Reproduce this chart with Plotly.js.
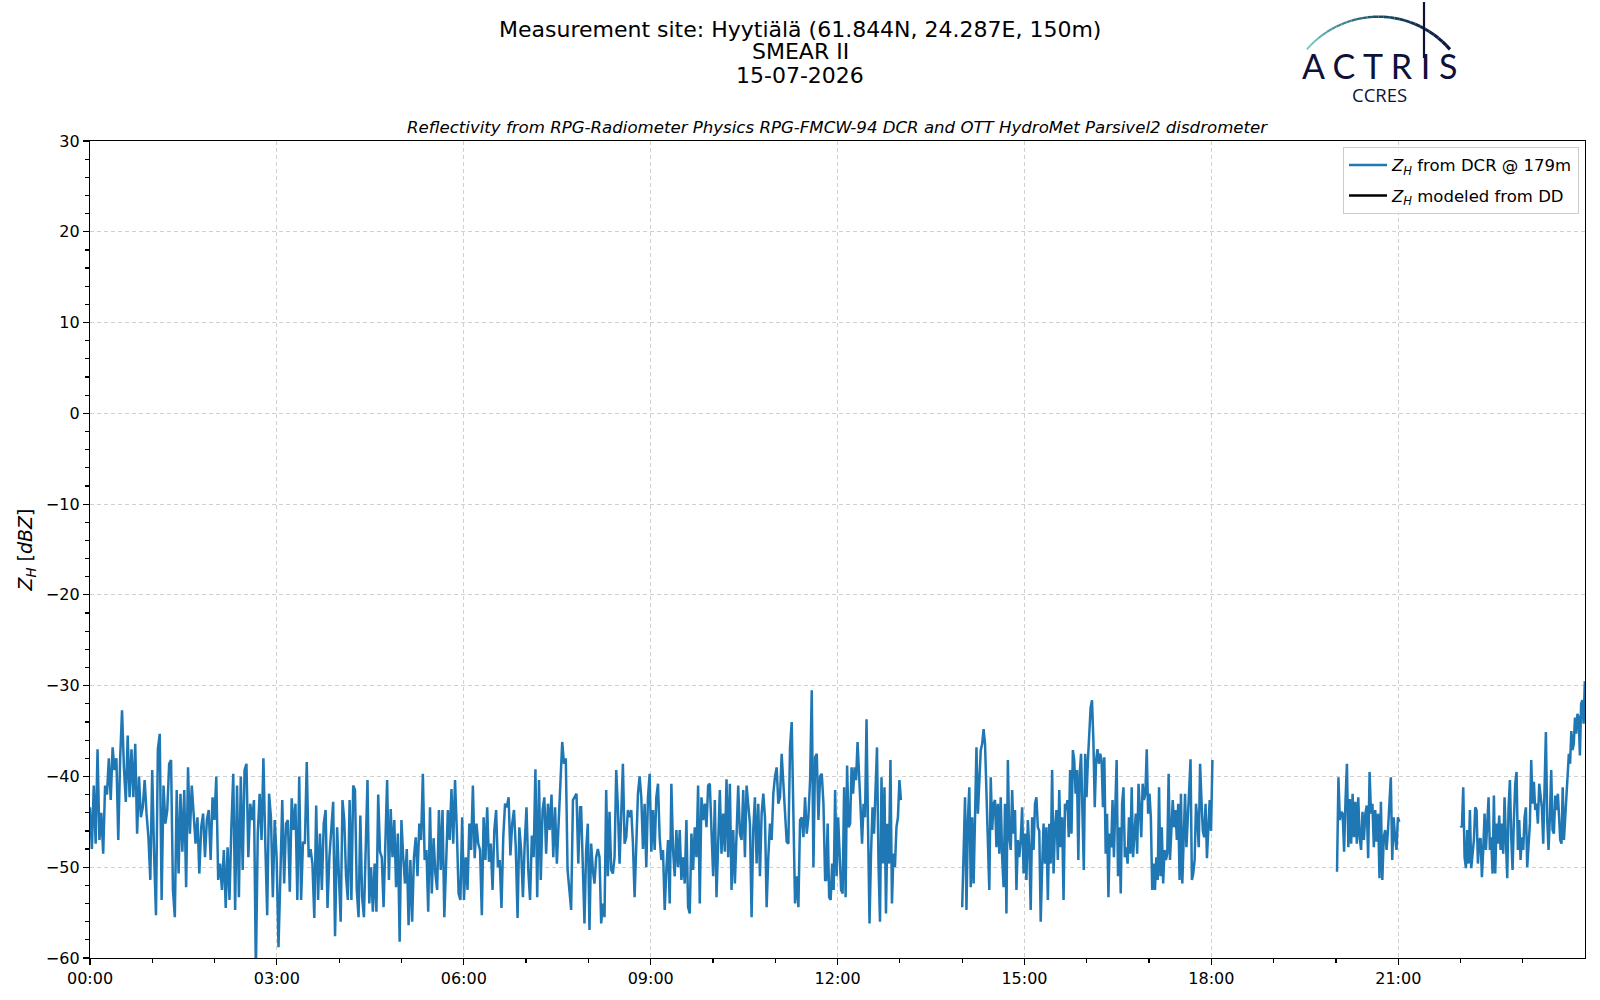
<!DOCTYPE html>
<html>
<head>
<meta charset="utf-8">
<script src="https://cdn.plot.ly/plotly-3.0.1.min.js"></script>
<style>
  html, body { margin: 0; padding: 0; background: #fff; }
  #plot { width: 1600px; height: 1000px; }
</style>
</head>
<body>
<div id="plot"></div>
<script>
// Z_H from the DCR at 179 m, in dBZ.
// Each chunk is evenly sampled between its start and end time.
const day = '2026-07-15'

const chunkStart = ['00:00', '03:58', '07:53', '11:49', '14:00', '15:40', '20:01', '22:00', '23:36']
const chunkEnd = ['03:56', '07:52', '11:48', '13:01', '15:39', '18:01', '21:01', '23:35', '23:59:40']

const dcr_0000 = [-43.4,-48,-41,-47.4,-37,-47,-44,-48.5,-41,-42,-38,-42.6,-36.8,-39.3,-38,-47,-38,-32.7,-39,-42.8,-35.5,-42.3,-37,-42.3,-36.4,-46.3,-40,-44.5,-43.4,-40.4,-44.1,-46.7,-51.4,-39.3,-48.5,-55.3,-37,-35.3,-53.6,-41,-45.2,-43.7,-38.6,-38.2,-52.5,-55.5,-41.5,-50.7,-41.9,-48.3,-41.5,-52.2,-39,-46.3,-41,-44.1,-47.4,-44.5,-50.7,-45.6,-44.1,-48.9,-44.8,-43.7,-49.2,-42.3,-44.8,-40,-51.4,-49.6,-52.5,-48.1,-54.5,-47.8,-53.6,-45.6,-39.7,-54.7,-41,-53.3,-40,-50.3,-39.3,-38.6,-48.9,-43,-44.8,-42.6,-61.5,-46.3,-41.9,-47,-38,-47.4,-55.3,-41.9,-44.5,-53.3,-44.8,-48.9,-58.8,-51,-42.6,-51.8,-45.2,-44.8,-52.7,-42.4,-45.9,-43,-53.6,-40,-53.6,-47.2,-47.4,-38.4,-48.9,-48,-49.6,-55.6,-43.2,-53.6,-46.3,-52.5,-45.2,-43.7,-54.5,-48.9,-46.3,-42.8,-57.6]
const dcr_0358 = [-45.6,-51,-56,-42.6,-44.8,-51,-53.6,-42.6,-53.6,-41,-41.5,-52.5,-55.5,-44.3,-53.3,-55.5,-48.1,-40.4,-54,-50,-54.9,-49.6,-54.9,-42,-48.3,-48.9,-54.4,-45.6,-40.4,-51.4,-43.6,-48.9,-44.8,-52.2,-46.3,-58.2,-44.8,-48.9,-51.8,-48,-56.4,-49.2,-56,-48.9,-46.7,-51,-45.2,-47,-39.7,-49.2,-48.1,-54.9,-43.4,-52.9,-46.8,-50.7,-52.5,-43.7,-50.3,-43.7,-55.5,-49.6,-43.7,-47,-41.4,-47.4,-40.4,-45.9,-52.9,-53.6,-44.5,-53.6,-48.9,-52.5,-45.2,-48.1,-41,-49,-45.2,-47.4,-48.1,-55.3,-44.5,-49.2,-43.4,-49.4,-47.4,-52.5,-45.9,-43.7,-50,-49.2,-54.5,-46.7,-43,-43.4,-42.3,-48.7,-45.2,-43.7,-47.8,-55.6,-45.6,-48.1,-53.3,-47.4,-43.4,-50.3,-53.6,-46.5,-48.9,-39.2,-53.3,-40.4,-51.4,-43.7,-42.3,-48.5,-43,-45.9,-42,-48.9,-43.4,-49.6,-44.5,-40.4,-36.2,-38.6,-38,-50.3,-52.2,-54.7,-42.6,-42.3,-41.9,-49.6,-43.4]
const dcr_0753 = [-43.4,-49.2,-56.2,-48.1,-45.2,-56.9,-47.4,-50.3,-51.8,-48.9,-48,-48.9,-56.2,-54,-55.5,-41.5,-51,-43.9,-50.3,-50.7,-48.9,-39.3,-43.4,-49.6,-43.7,-38.6,-47.4,-46.7,-43.7,-44.5,-43.7,-47.4,-53.3,-46.3,-41.9,-40,-42.3,-48,-43,-50,-42.3,-39.7,-48.3,-43.7,-48.1,-42.3,-40.8,-46.7,-49.2,-48.1,-54.7,-50.3,-47,-54,-40.8,-48.1,-51,-45.9,-50,-45.9,-51.4,-48.9,-51.8,-44.8,-54.4,-55.1,-46.3,-50.3,-45.6,-48.9,-41,-54,-42.3,-44.8,-43,-45.6,-41,-40.8,-46.7,-51,-42.6,-53.3,-47.4,-41.5,-48.5,-44.1,-48.3,-40.3,-48.9,-40.8,-52.5,-45.9,-51.8,-46.7,-41,-46.3,-47,-41.5,-48.9,-41,-43,-45.2,-55.5,-45.9,-42.3,-49.6,-43,-51,-44.1,-41.9,-44.5,-54.4,-48.9,-45.2,-47,-41.9,-40,-39,-43,-42.3,-37.5,-40.4,-44.5,-47.2,-47.4,-36.8,-34,-43.7,-54,-51,-54.4,-44.8,-44.5,-46.7,-42.3,-46.3,-44.5,-40.4,-30.5,-50,-37.9,-37.5,-44.8,-40,-39.7,-43,-51.4]
const dcr_1149 = [-51.4,-45.2,-53.3,-53.6,-49.6,-52.5,-41.5,-51,-44.5,-47.8,-52.5,-52.9,-41.2,-53.3,-38.8,-45.6,-45.2,-39,-41.9,-39,-40.4,-36.2,-39.3,-43.4,-47.4,-43,-44.5,-33.7,-45.6,-56.2,-48.5,-43.4,-46.3,-41.9,-36.8,-49.6,-56,-40.1,-49.6,-41.2,-55.1,-45.2,-49.6,-38.2,-54,-48.5,-50,-45.6,-44.5,-40.4,-42.6]
const dcr_1400 = [-54.4,-49.2,-42.3,-54.7,-44.8,-41.2,-52.2,-44.5,-51.8,-44.5,-36.8,-44.1,-39.7,-37.1,-36.4,-34.8,-36.4,-41.9,-47.4,-52.5,-40.1,-45.9,-43,-42.6,-47.8,-43,-48.5,-42.3,-48.9,-52.2,-43,-55.1,-38.2,-46.7,-48.1,-41.5,-46.3,-43.7,-52.5,-47,-48.9,-47,-43.4,-50.7,-46.3,-51.4,-44.8,-47.8,-54.7,-44.5,-48.1,-43,-42.3,-45.6,-46,-56,-50,-45.2,-49.6,-45.6,-53.6,-45.2,-49.6,-39.3,-50.7,-45.6,-43.7,-49.2,-41.5,-47.8,-44.5,-53.6,-43]
const dcr_1540 = [-43.7,-42.6,-46.7,-39.3,-46.3,-37.1,-38.2,-41.9,-39.3,-49.2,-39.7,-37.5,-44.8,-50.3,-37.5,-42.3,-38.2,-34.6,-32.4,-31.6,-36,-43.4,-38.2,-37,-38.6,-37.5,-38.2,-43.4,-37.9,-48.5,-44.1,-53.3,-46.3,-47.8,-42.6,-48.9,-43.7,-38.2,-51,-45.6,-52.9,-43,-41.2,-48.9,-47.8,-49.6,-44.5,-48.5,-41.2,-48.9,-46.3,-44.1,-48.5,-40.8,-43.7,-46.7,-40.8,-42.6,-41.9,-37,-44.1,-41.9,-44.5,-52.5,-49.6,-52.5,-48.9,-51.4,-41.2,-51,-45.6,-51.8,-48.1,-49.2,-48.5,-39.7,-49.2,-46.3,-42.6,-45.6,-43.7,-47,-43,-51.4,-41.9,-51.8,-45.6,-41.9,-47.8,-43.7,-41.5,-38.1,-51.4,-50.7,-49.2,-43,-44.8,-47.8,-38.6,-42.6,-46,-46.7,-43,-49,-46.3,-42.6,-46,-38.2]
const dcr_2001 = [-50.5,-40.1,-44.8,-43.9,-44.1,-48.3,-42.6,-38.6,-47.8,-42.5,-47.4,-41.9,-46.7,-42.8,-47.4,-42.3,-46.7,-48.1,-43.9,-47,-44.1,-43.2,-49,-39.5,-44.1,-43,-47.8,-43.7,-47.2,-44.1,-51.2,-42.8,-51.4,-46.7,-45.9,-48.1,-45.9,-42.3,-40.1,-49.2,-44.5,-46.7,-48.1,-44.5,-45]
const dcr_2200 = [-45.4,-45.6,-41.2,-48.9,-50.1,-45.9,-49.6,-43.7,-50.1,-48.5,-47,-43.4,-43.7,-49.6,-47,-46.8,-51.1,-48.1,-44.1,-48.1,-44.1,-42.3,-48.1,-46.7,-50.7,-42.1,-50.7,-45.2,-47.4,-44.3,-48.1,-45.2,-48.5,-42.3,-47,-51.2,-43.4,-40.4,-46.7,-50.3,-44.8,-40.8,-39.5,-48.1,-44.8,-49.2,-46.7,-48.1,-44.5,-43.4,-50,-47,-45.2,-38.2,-43,-40.6,-43.7,-43,-45.2,-40.8,-42.3,-43.4,-47.4,-41.5,-35.1,-44.8,-48.1,-44.5,-39.3,-45.9,-46.3,-42.1,-43.7,-41.9,-45.9]
const dcr_2336 = [-47,-47.4,-41.2,-47,-44.5,-42.6,-40.1,-37.5,-38.6,-35,-37.1,-36.4,-33.5,-35.3,-33.1,-33.5,-37.7,-32,-31.6,-34.2,-29.5]

const chunkValues = [dcr_0000, dcr_0358, dcr_0753, dcr_1149, dcr_1400, dcr_1540, dcr_2001, dcr_2200, dcr_2336]

// the disdrometer had nothing to model this day
const ddTimes = []
const ddValues = []

const titleLines = ['Measurement site: Hyytiälä (61.844N, 24.287E, 150m)', 'SMEAR II', '15-07-2026']
const subtitle = 'Reflectivity from RPG-Radiometer Physics RPG-FMCW-94 DCR and OTT HydroMet Parsivel2 disdrometer'

// Build the time series

function to_ms(hhmm) {
  let [h, m, s] = hhmm.split(':').map(Number)
  return Date.UTC(2026, 6, 15, h, m, s || 0)
}

let times = []
let zh = []
let last_end = null
for (let [i, values] of chunkValues.entries()) {
  let t0 = to_ms(chunkStart[i]), t1 = to_ms(chunkEnd[i])
  // No data between chunks further apart than 10 min -> break the line
  if (last_end !== null && t0 - last_end > 10 * 60e3) {
    times.push(new Date(last_end + 60e3).toISOString())
    zh.push(null)
  }
  let step = (t1 - t0) / (values.length - 1)
  values.forEach((v, k) => {
    times.push(new Date(t0 + k * step).toISOString())
    zh.push(v)
  })
  last_end = t1
}

// Page geometry, used to place the header and the logo
const L = 90, R = 15, T = 141, B = 42
const W = 1600 - L - R, H = 1000 - T - B
let px_x = px => (px - L) / W
let px_y = py => (1000 - B - py) / H

function logo_shapes() {
  let shapes = []
  // arc of the ACTRIS logo, teal to navy
  let cx = 1378.4, cy = 111.4, r = 94.7
  let a0 = Math.atan2(49.3 - cy, 1306.7 - cx), a1 = Math.atan2(49.3 - cy, 1450 - cx)
  let c0 = [120, 200, 192], c1 = [22, 78, 100], c2 = [14, 18, 56]
  let n = 30
  for (let i = 0; i < n; i++) {
    let f = (i + 0.5) / n
    let c = f < 0.5 ? c0.map((v, j) => v + (c1[j] - v) * f * 2) : c1.map((v, j) => v + (c2[j] - v) * (f - 0.5) * 2)
    let aa = a0 + (a1 - a0) * i / n, ab = a0 + (a1 - a0) * (i + 1) / n
    shapes.push({
      type: 'line', xref: 'paper', yref: 'paper', layer: 'above',
      x0: px_x(cx + r * Math.cos(aa)), y0: px_y(cy + r * Math.sin(aa)),
      x1: px_x(cx + r * Math.cos(ab)), y1: px_y(cy + r * Math.sin(ab)),
      line: {color: `rgb(${c.map(Math.round).join(',')})`, width: 1.8 + 1.4 * f}
    })
  }
  shapes.push({
    type: 'line', xref: 'paper', yref: 'paper', layer: 'above',
    x0: px_x(1424), y0: px_y(2), x1: px_x(1424), y1: px_y(58),
    line: {color: '#0e1238', width: 2.2}
  })
  return shapes
}

const font = 'DejaVu Sans, sans-serif'
const zh_label = '<i>Z</i><sub><i>H</i></sub>'

let data = [
  {
    name: zh_label + ' from DCR @ 179m', legendgroup: 'dcr',
    x: times, y: zh, type: 'scatter', mode: 'lines',
    line: {color: '#1f77b4', width: 2.5},
    connectgaps: false
  },
  {
    name: zh_label + ' modeled from DD', legendgroup: 'dd',
    x: ddTimes.length ? ddTimes : [times[0]], y: ddValues.length ? ddValues : [null],
    type: 'scatter', mode: 'lines',
    line: {color: '#000000', width: 2.5}
  }
]

let axis_common = {
  showline: true, linecolor: '#000', linewidth: 1.2, mirror: true,
  ticks: 'outside', ticklen: 6, tickwidth: 1.2, tickcolor: '#000',
  showgrid: true, gridcolor: '#d0d0d0', gridwidth: 1, griddash: '4px,3px',
  zeroline: false,
  tickfont: {family: font, size: 16, color: '#000'}
}

let header = titleLines.map((line, i) => ({
  text: line, xref: 'paper', yref: 'paper',
  x: px_x(800), y: px_y([29, 51.5, 75][i]), xanchor: 'center', yanchor: 'middle', showarrow: false,
  font: {family: font, size: 22, color: '#000'}
}))

let layout = {
  width: 1600, height: 1000,
  margin: {l: L, r: R, t: T, b: B},
  paper_bgcolor: '#fff', plot_bgcolor: '#fff',
  font: {family: font, color: '#000'},
  showlegend: true,
  legend: {
    x: 0.996, y: 0.993, xanchor: 'right', yanchor: 'top',
    bgcolor: 'rgba(255,255,255,0.8)', bordercolor: '#cccccc', borderwidth: 1,
    font: {family: font, size: 16.5, color: '#000'},
    tracegroupgap: 6, itemwidth: 38
  },
  xaxis: Object.assign({}, axis_common, {
    type: 'date',
    range: [day + ' 00:00', day + ' 23:59:50'],
    tick0: day + ' 00:00', dtick: 3 * 3600e3, tickformat: '%H:%M',
    minor: {dtick: 3600e3, ticklen: 3.5, tickcolor: '#000', showgrid: false, ticks: 'outside'}
  }),
  yaxis: Object.assign({}, axis_common, {
    range: [-60, 30], dtick: 10, tick0: 0,
    minor: {dtick: 2, ticklen: 3.5, tickcolor: '#000', showgrid: false, ticks: 'outside'},
    title: {text: zh_label + ' [<i>dBZ</i>]', font: {family: font, size: 19, color: '#000'}, standoff: 8}
  }),
  annotations: header.concat([
    {
      text: '<i>' + subtitle + '</i>', xref: 'paper', yref: 'paper',
      x: 0.5, y: px_y(127), xanchor: 'center', yanchor: 'middle', showarrow: false,
      font: {family: font, size: 16.6, color: '#000'}
    },
    {
      text: 'A C T R I S', xref: 'paper', yref: 'paper',
      x: px_x(1379), y: px_y(66), xanchor: 'center', yanchor: 'middle', showarrow: false,
      font: {family: 'Lato, Open Sans, sans-serif', size: 34, color: '#0e1238'}
    },
    {
      text: 'CCRES', xref: 'paper', yref: 'paper',
      x: px_x(1379), y: px_y(94), xanchor: 'center', yanchor: 'middle', showarrow: false,
      font: {family: 'Open Sans, sans-serif', size: 18.5, color: '#0e1238'}
    }
  ]),
  shapes: logo_shapes()
}

Plotly.newPlot('plot', data, layout, {staticPlot: true})
</script>
</body>
</html>
